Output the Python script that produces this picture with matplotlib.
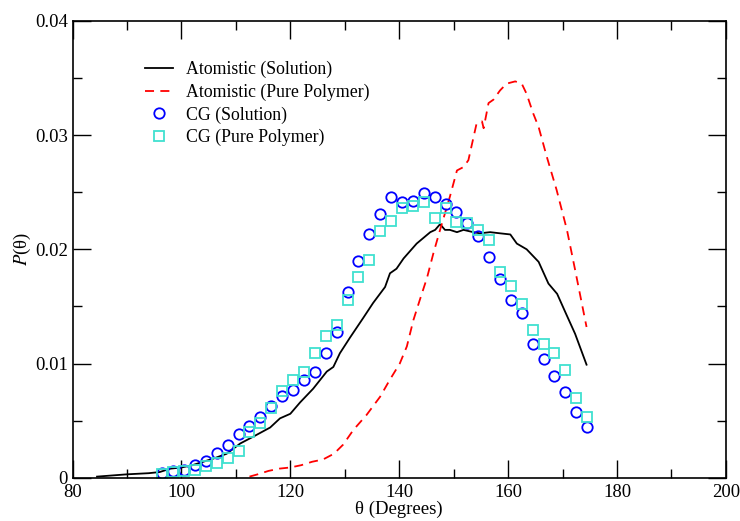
import matplotlib
matplotlib.use('Agg')
import matplotlib.pyplot as plt
from matplotlib.ticker import MultipleLocator

plt.rcParams['font.family'] = ['Liberation Serif', 'DejaVu Serif']
plt.rcParams['mathtext.fontset'] = 'stix'

# 原子模拟 (溶液)
atom_sol_x = [84.5, 90, 94, 96, 98, 100, 102, 104, 106, 108.3, 110.8, 113.2, 116.3, 118.1, 120,
              121.8, 124.2, 126.7, 127.9, 129.1, 131, 133.4, 135.2, 137.4, 138.3, 139.5, 140.8,
              143.2, 145.7, 146.6, 147.5, 148.4, 149.3, 150.6, 151.8, 153.6, 154.8, 156.7, 158.5,
              160.4, 161.6, 163.4, 165.6, 167.4, 169, 170.5, 172.3, 174.4]
atom_sol_y = [0.0001, 0.0003, 0.0004, 0.0005, 0.0008, 0.0009, 0.0011, 0.0014, 0.0017, 0.0021,
              0.0030, 0.0036, 0.0044, 0.0052, 0.0056, 0.0066, 0.0078, 0.0093, 0.0097, 0.0109,
              0.0123, 0.0140, 0.0153, 0.0167, 0.0179, 0.0183, 0.0192, 0.0205, 0.0215, 0.0217,
              0.0222, 0.0217, 0.0217, 0.0215, 0.0217, 0.0215, 0.0214, 0.0215, 0.0214, 0.0213,
              0.0205, 0.0200, 0.0189, 0.0170, 0.0161, 0.0145, 0.0126, 0.0099]

# 原子模拟 (纯聚合物)
atom_pp_x = [112.5, 114, 116, 118, 120, 122, 124, 126, 128, 129.7, 131.6, 134, 136.5, 138.3, 140.1,
             141.4, 142.6, 143.8, 145.1, 146.3, 147.5, 149.3, 150.6, 151.8, 152.7, 154.2, 155.2,
             155.5, 156.4, 157.3, 158.5, 159.7, 161.3, 162.5, 163.4, 164.6, 165.6, 167.1, 168.9,
             170.8, 172.3, 174.4]
atom_pp_y = [0.0001, 0.0003, 0.0006, 0.0008, 0.0009, 0.0011, 0.0014, 0.0016, 0.0021, 0.0029,
             0.0042, 0.0055, 0.0071, 0.0086, 0.0100, 0.0115, 0.0138, 0.0156, 0.0175, 0.0197,
             0.0217, 0.0246, 0.0269, 0.0272, 0.0278, 0.0310, 0.0312, 0.0306, 0.0328, 0.0331,
             0.0339, 0.0345, 0.0347, 0.0345, 0.0336, 0.0319, 0.0307, 0.0281, 0.0252, 0.0217,
             0.0182, 0.0132]

# CG 点
cg_x = [96.5 + 2 * i for i in range(40)]
cg_sol_y = [0.0004, 0.0006, 0.0007, 0.0011, 0.0015, 0.0022, 0.0029, 0.0038, 0.0045, 0.0053,
            0.0063, 0.0072, 0.0077, 0.0086, 0.0093, 0.0109, 0.0128, 0.0163, 0.0190, 0.0213,
            0.0231, 0.0246, 0.0241, 0.0242, 0.0249, 0.0246, 0.0240, 0.0233, 0.0223, 0.0212,
            0.0193, 0.0174, 0.0156, 0.0144, 0.0117, 0.0104, 0.0089, 0.0075, 0.0058, 0.0044]
cg_pp_y = [0.0003, 0.0005, 0.0006, 0.0007, 0.0010, 0.0013, 0.0017, 0.0023, 0.0040, 0.0048,
           0.0061, 0.0076, 0.0086, 0.0093, 0.0109, 0.0124, 0.0134, 0.0156, 0.0176, 0.0191,
           0.0216, 0.0225, 0.0236, 0.0238, 0.0241, 0.0227, 0.0236, 0.0224, 0.0223, 0.0217,
           0.0208, 0.0180, 0.0168, 0.0152, 0.0129, 0.0117, 0.0109, 0.0094, 0.0070, 0.0053]

fig = plt.figure(figsize=(7.4, 5.21), dpi=100)
ax = fig.add_axes([0.098, 0.083, 0.883, 0.877])

ax.plot(atom_sol_x, atom_sol_y, color='black', lw=1.3, label='Atomistic (Solution)')
ax.plot(atom_pp_x, atom_pp_y, color='red', lw=1.3, dashes=(5, 3.5), label='Atomistic (Pure Polymer)')
ax.plot(cg_x, cg_sol_y, ls='none', marker='o', ms=7.5, mfc='none', mec='blue', mew=1.3,
        label='CG (Solution)')
ax.plot(cg_x, cg_pp_y, ls='none', marker='s', ms=7, mfc='none', mec='turquoise', mew=1.3,
        label='CG (Pure Polymer)')

ax.set_xlim(80, 200)
ax.set_ylim(0, 0.04)
ax.xaxis.set_major_locator(MultipleLocator(20))
ax.xaxis.set_minor_locator(MultipleLocator(10))
ax.yaxis.set_major_locator(MultipleLocator(0.01))
ax.yaxis.set_minor_locator(MultipleLocator(0.005))
ax.set_yticks([0, 0.01, 0.02, 0.03, 0.04])
ax.set_yticklabels(['0', '0.01', '0.02', '0.03', '0.04'])
ax.tick_params(which='both', direction='in', top=True, right=True, labelsize=13.5)
ax.tick_params(axis='x', pad=4.5)
ax.tick_params(which='major', length=13, width=1)
ax.tick_params(which='minor', length=6.5, width=1)
for s in ax.spines.values():
    s.set_linewidth(1.2)

ax.set_xlabel('θ (Degrees)', fontsize=13.5, labelpad=0)
ax.set_ylabel(r'$\mathit{P}$(θ)', fontsize=13.5, labelpad=1)

ax.legend(loc='upper left', bbox_to_anchor=(0.111, 0.912), frameon=False, fontsize=12.8,
          handlelength=1.55, handletextpad=0.75, labelspacing=0.3, borderpad=0,
          borderaxespad=0)

fig.savefig('out.png', dpi=100)
